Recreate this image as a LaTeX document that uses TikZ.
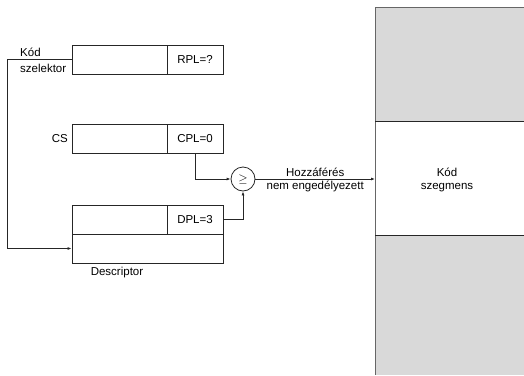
\documentclass[tikz,border=0pt]{standalone}
\usepackage{fontspec}
\setmainfont{Liberation Sans}
\usetikzlibrary{arrows.meta}
\begin{document}
\begin{tikzpicture}[x=1pt,y=-1pt,
  every node/.style={font=\fontsize{11.5}{13.5}\selectfont, inner sep=0pt},
  cell/.style={draw=black!85, line width=0.8pt},
  conn/.style={draw=black!85, line width=0.8pt, -{Latex[length=4pt,width=3pt]}},
  plain/.style={draw=black!85, line width=0.8pt},
  lbl/.style={align=center}]
\useasboundingbox (0,0) rectangle (524,375);
% segment
\fill[black!15] (375,7) rectangle (524,121);
\fill[black!15] (375,235) rectangle (524,375);
\draw[black!60, line width=0.9pt] (524,7) -- (375,7) -- (375,375);
\draw[plain] (375,121) -- (524,121);
\draw[plain] (375,235) -- (524,235);
\node[lbl] (seg) at (447,180) {Kód\\szegmens};
\coordinate (segin) at (375,179);
% selector
\node[cell, minimum width=95pt, minimum height=29pt] (selA) at (119.5,59.5) {};
\node[cell, minimum width=56pt, minimum height=29pt] (selB) at (195,59.5) {RPL=?};
\node[lbl, anchor=west, align=left] (kod) at (20,52) {Kód};
\node[lbl, anchor=west] (szel) at (20,68.5) {szelektor};
% CS
\node[cell, minimum width=95pt, minimum height=29pt] (csA) at (119.5,138.5) {};
\node[cell, minimum width=56pt, minimum height=29pt] (csB) at (195,138.5) {CPL=0};
\node[anchor=east] (cs) at (68,138.5) {CS};
% descriptor
\node[cell, minimum width=95pt, minimum height=29pt] (dA) at (119.5,219.5) {};
\node[cell, minimum width=56pt, minimum height=29pt] (dB) at (195,219.5) {DPL=3};
\node[cell, minimum width=151pt, minimum height=29pt] (dC) at (147.5,248.5) {};
\node (desc) at (117,273) {Descriptor};
% comparator
\node[draw=black!85, line width=0.8pt, circle, minimum size=24pt] (cmp) at (243,179) {$\geq$};
% connectors
\draw[conn] (selA.west) -- (7,59.5) -- (7,248.5) -- (dC.west);
\draw[conn] (csB.south) |- (cmp.west);
\draw[conn] (dB.east) -| (cmp.south);
\draw[conn] (cmp.east) -- node[above=1.5pt, lbl] (h) {Hozzáférés} node[below=1.5pt, lbl] (n) {nem engedélyezett} (segin);
\end{tikzpicture}
\end{document}
